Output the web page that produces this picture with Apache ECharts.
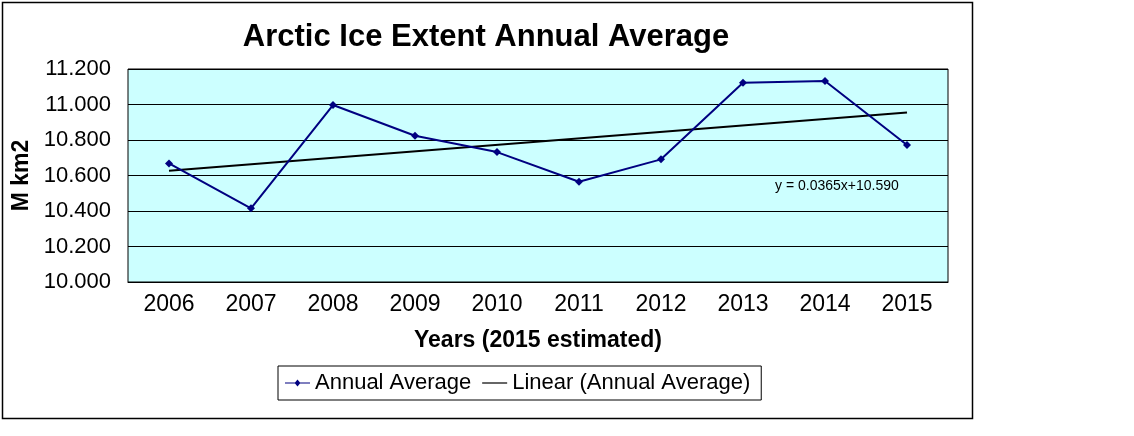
<!DOCTYPE html>
<html><head><meta charset="utf-8">
<script src="https://cdn.jsdelivr.net/npm/echarts@6/dist/echarts.min.js"></script>
<style>html,body{margin:0;padding:0;background:#fff}#c{width:1134px;height:436px}</style>
</head><body><div id="c"></div>
<script>
const years = ['2006','2007','2008','2009','2010','2011','2012','2013','2014','2015'];
const annualAverage = [10.668, 10.415, 10.997, 10.824, 10.732, 10.565, 10.691, 11.123, 11.132, 10.772];
const trendStart = 10.627;
const trendEnd = 10.955;
const trendLabel = 'y = 0.0365x+10.590';
const titleText = 'Arctic Ice Extent Annual Average';
const yName = 'M km2';
const xName = 'Years (2015 estimated)';

const trendData = years.map((_, i) => i === 0 ? trendStart : (i === years.length - 1 ? trendEnd : null));
const F = 'Liberation Sans, Arial, sans-serif';
const chart = echarts.init(document.getElementById('c'));
chart.setOption({
  animation: false,
  backgroundColor: '#fff',
  textStyle: { fontFamily: F },
  title: { text: titleText, left: 481, textAlign: 'center', top: 17,
    textStyle: { fontFamily: F, fontSize: 31, fontWeight: 'bold', color: '#000' } },
  graphic: [
    { type: 'rect', shape: { x: 2.5, y: 2.5, width: 970, height: 416 }, style: { fill: 'none', stroke: '#000', lineWidth: 1.5 }, z: 100 },
    { type: 'text', left: 775, top: 179, style: { text: trendLabel, fontFamily: F, fontSize: 14, fill: '#000' }, z: 100 }
  ],
  grid: { left: 128, top: 69, width: 820, height: 213, show: true, backgroundColor: '#ccffff', borderColor: '#000', borderWidth: 1 },
  legend: {
    left: 278, top: 366, orient: 'horizontal', padding: [6, 11, 6, 7],
    borderColor: '#000', borderWidth: 1, itemGap: 11, itemWidth: 25, itemHeight: 10,
    textStyle: { fontFamily: F, fontSize: 22, color: '#000' },
    data: [
      { name: 'Annual Average', icon: 'path://M0,4.4 L10,4.4 L12.5,1.5 L15,4.4 L25,4.4 L25,5.6 L15,5.6 L12.5,8.5 L10,5.6 L0,5.6 Z' },
      { name: 'Linear (Annual Average)', icon: 'path://M0,4.4 L25,4.4 L25,5.6 L0,5.6 Z' }
    ]
  },
  xAxis: {
    type: 'category', data: years, boundaryGap: true,
    name: xName, nameLocation: 'middle', nameGap: 47,
    nameTextStyle: { fontFamily: F, fontSize: 23, fontWeight: 'bold', color: '#000' },
    axisLine: { lineStyle: { color: '#000', width: 1 } },
    axisTick: { inside: true, length: 7, lineStyle: { color: '#000' } },
    axisLabel: { fontFamily: F, fontSize: 23, color: '#000', margin: 11 }
  },
  yAxis: {
    type: 'value', min: 10, max: 11.2, interval: 0.2,
    name: yName, nameLocation: 'middle', nameGap: 91, nameRotate: 90,
    nameTextStyle: { fontFamily: F, fontSize: 23, fontWeight: 'bold', color: '#000' },
    axisLine: { show: false }, axisTick: { show: false },
    axisLabel: { fontFamily: F, fontSize: 22, color: '#000', margin: 17, formatter: v => v.toFixed(3) },
    splitLine: { lineStyle: { color: '#000', width: 1 } }
  },
  series: [
    { name: 'Annual Average', type: 'line', data: annualAverage, color: '#000080',
      symbol: 'diamond', symbolSize: 8, showSymbol: true,
      lineStyle: { color: '#000080', width: 2 }, itemStyle: { color: '#000080' }, z: 3 },
    { name: 'Linear (Annual Average)', type: 'line', data: trendData, connectNulls: true, color: '#000',
      symbol: 'none', lineStyle: { color: '#000', width: 2 }, itemStyle: { color: '#000' }, z: 2 }
  ]
});
</script></body></html>
